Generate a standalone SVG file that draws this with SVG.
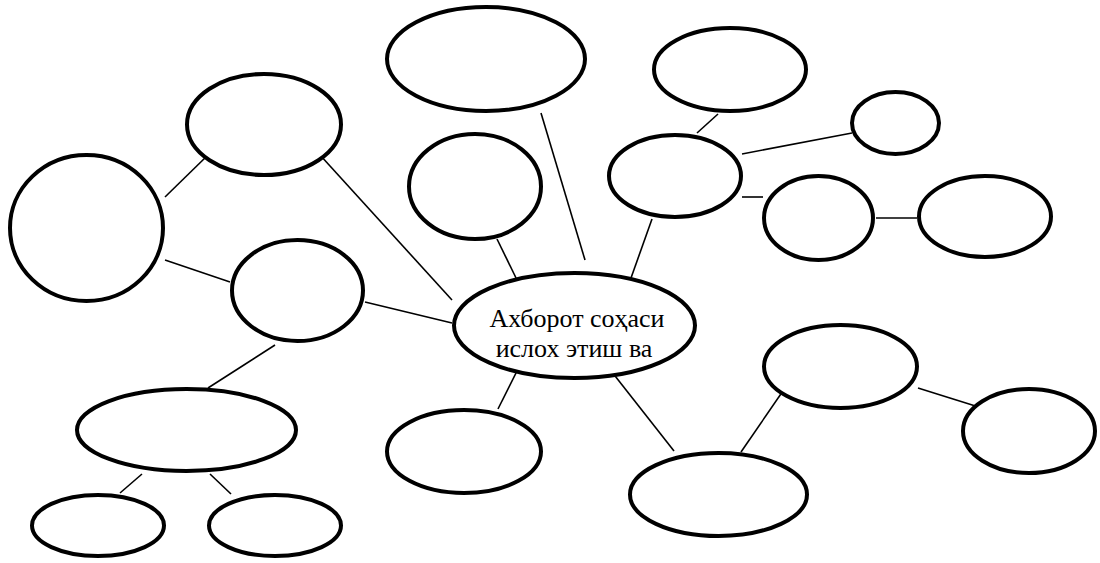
<svg xmlns="http://www.w3.org/2000/svg" width="1100" height="563" viewBox="0 0 1100 563">
<style>
.n{fill:#fff;stroke:#000;stroke-width:4}
.c line{stroke:#000;stroke-width:1.6}
.t{font-family:"Liberation Serif","Times New Roman",serif;font-size:26px;fill:#000;text-anchor:middle}
</style>
<rect width="1100" height="563" fill="#fff"/>
<g class="c" id="connectors">
<line x1="165" y1="197" x2="208" y2="155"/>
<line x1="165" y1="260" x2="230" y2="282"/>
<line x1="320" y1="155" x2="452" y2="300"/>
<line x1="365" y1="302" x2="452" y2="323"/>
<line x1="208" y1="388" x2="275" y2="345"/>
<line x1="142" y1="474" x2="120" y2="493"/>
<line x1="210" y1="474" x2="231" y2="494"/>
<line x1="541" y1="113" x2="585" y2="260"/>
<line x1="497" y1="239" x2="518" y2="282"/>
<line x1="652" y1="219" x2="631" y2="278"/>
<line x1="697" y1="133" x2="718" y2="114"/>
<line x1="742" y1="154" x2="852" y2="133"/>
<line x1="742" y1="197" x2="763" y2="197"/>
<line x1="876" y1="218" x2="917" y2="218"/>
<line x1="519" y1="367" x2="498" y2="409"/>
<line x1="608" y1="367" x2="674" y2="451"/>
<line x1="785" y1="388" x2="741" y2="452"/>
<line x1="918" y1="388" x2="985" y2="409"/>
</g>
<g id="n1"><ellipse class="n" cx="86.5" cy="228" rx="76.5" ry="73"/></g>
<g id="n2"><ellipse class="n" cx="264" cy="124.5" rx="77" ry="50.5"/></g>
<g id="n3"><ellipse class="n" cx="297.5" cy="290.5" rx="65.5" ry="50.5"/></g>
<g id="n4"><ellipse class="n" cx="186.5" cy="430" rx="109.5" ry="41"/></g>
<g id="n5"><ellipse class="n" cx="98" cy="525.5" rx="66" ry="30.5"/></g>
<g id="n6"><ellipse class="n" cx="275" cy="525.5" rx="66" ry="30.5"/></g>
<g id="n7"><ellipse class="n" cx="486" cy="59" rx="99" ry="52"/></g>
<g id="n8"><ellipse class="n" cx="475" cy="186.5" rx="66" ry="52.5"/></g>
<g id="center"><ellipse class="n" cx="574.5" cy="325.5" rx="120.5" ry="52.5"/>
<text class="t" x="577" y="327">Ахборот соҳаси</text>
<text class="t" x="574" y="357">ислох этиш ва</text></g>
<g id="n10"><ellipse class="n" cx="730" cy="69.5" rx="76" ry="41.5"/></g>
<g id="n11"><ellipse class="n" cx="895.5" cy="123" rx="43.5" ry="31"/></g>
<g id="n12"><ellipse class="n" cx="675" cy="176" rx="66" ry="41"/></g>
<g id="n13"><ellipse class="n" cx="818.5" cy="218" rx="54.5" ry="42"/></g>
<g id="n14"><ellipse class="n" cx="985" cy="216.5" rx="66" ry="40.5"/></g>
<g id="n15"><ellipse class="n" cx="464" cy="451.5" rx="77" ry="41.5"/></g>
<g id="n16"><ellipse class="n" cx="718.5" cy="494.5" rx="88.5" ry="41.5"/></g>
<g id="n17"><ellipse class="n" cx="840.5" cy="366.5" rx="76.5" ry="41.5"/></g>
<g id="n18"><ellipse class="n" cx="1029" cy="431" rx="66" ry="42"/></g>
</svg>
